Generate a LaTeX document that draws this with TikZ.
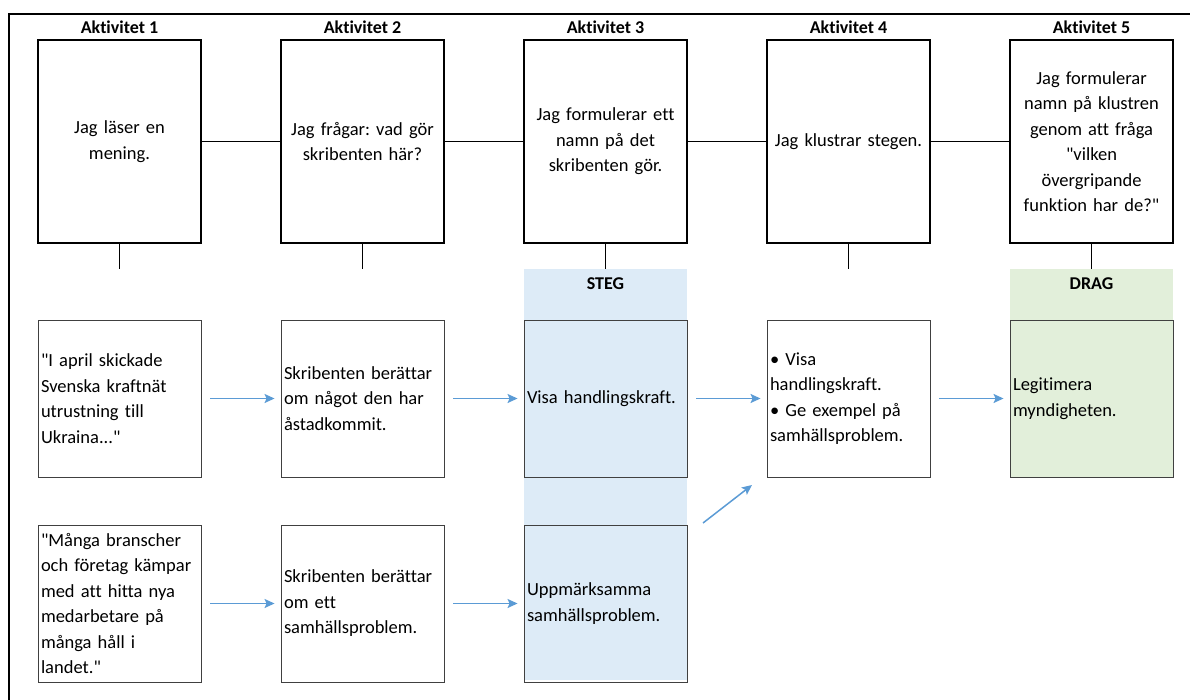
\documentclass[tikz,border=0pt]{standalone}
\usepackage{fontspec}
\setmainfont{Carlito}[Ligatures=NoCommon]
\usepackage{xcolor}
\usepackage{tikz}
\usetikzlibrary{positioning,arrows.meta}
\definecolor{stegblue}{HTML}{DDEBF7}
\definecolor{draggreen}{HTML}{E2EFDA}
\definecolor{pilblue}{HTML}{5B9BD5}
\frenchspacing
\newcommand{\cit}{\textquotedbl}
\tikzset{akt/.style={rectangle,draw,line width=1.6pt,minimum width=163pt,minimum height=203pt,text width=152pt,align=center,inner sep=0pt}}
\tikzset{ruta/.style={rectangle,draw=black!75,line width=0.9pt,minimum width=163pt,minimum height=157pt,text width=157pt,align=left,inner sep=3pt}}
\tikzset{rubrik/.style={font=\fontsize{18pt}{20pt}\selectfont\bfseries}}
\tikzset{pil/.style={->,draw=pilblue,line width=1.5pt,shorten <=9pt,shorten >=6pt}}
\tikzset{fond/.style={rectangle,minimum width=163pt,inner sep=0pt}}

\begin{document}
\begin{tikzpicture}[>={Stealth[length=10pt,width=9pt,inset=2pt]},x=1pt,y=-1pt,font=\fontsize{18.5pt}{25.5pt}\selectfont]
    \useasboundingbox (0,0) rectangle (1190,700);
    \draw [line width=2.4pt] (9,700) |- (1190,14);

    \node[fond,fill=stegblue,minimum height=411pt] (stegbg) at (605.5,474.5) {};
    \node[fond,fill=draggreen,minimum height=208pt] (dragbg) at (1091.5,373) {};
    \node[rubrik] at (605.5,284) {STEG};
    \node[rubrik] at (1091.5,284) {DRAG};

    \node[akt] (akt1) at (119.5,141.5) {Jag läser en\\mening.};
    \node[akt] (akt2) at (362.5,141.5) {Jag frågar: vad gör\\skribenten här?};
    \node[akt] (akt3) at (605.5,141.5) {Jag formulerar ett\\namn på det\\skribenten gör.};
    \node[akt] (akt4) at (848.5,141.5) {Jag klustrar stegen.};
    \node[akt] (akt5) at (1091.5,141.5) {Jag formulerar\\namn på klustren\\genom att fråga\\\cit vilken\\övergripande\\funktion har de?\cit};

    \node[rubrik,above=2pt of akt1] {Aktivitet 1};
    \node[rubrik,above=2pt of akt2] {Aktivitet 2};
    \node[rubrik,above=2pt of akt3] {Aktivitet 3};
    \node[rubrik,above=2pt of akt4] {Aktivitet 4};
    \node[rubrik,above=2pt of akt5] {Aktivitet 5};

    \coordinate (stub1) at (119.5,269);
    \coordinate (stub2) at (362.5,269);
    \coordinate (stub4) at (848.5,269);

    \node[ruta] (men1) at (119.5,398.5) {\cit I april skickade\\Svenska kraftnät\\utrustning till\\Ukraina...\cit};
    \node[ruta] (skr1) at (362.5,398.5) {Skribenten berättar\\om något den har\\åstadkommit.};
    \node[ruta] (steg1) at (605.5,398.5) {Visa handlingskraft.};
    \node[ruta] (klust) at (848.5,398.5) {\textbullet\ Visa\\handlingskraft.\\\textbullet\ Ge exempel på\\samhällsproblem.};
    \node[ruta] (legit) at (1091.5,398.5) {Legitimera\\myndigheten.};

    \node[ruta] (men2) at (119.5,603.5) {\cit Många branscher\\och företag kämpar\\med att hitta nya\\medarbetare på\\många håll i\\landet.\cit};
    \node[ruta] (skr2) at (362.5,603.5) {Skribenten berättar\\om ett\\samhällsproblem.};
    \node[ruta] (steg2) at (605.5,603.5) {Uppmärksamma\\samhällsproblem.};

    \coordinate (diag1) at (703,523);
    \coordinate (diag2) at (752,485);

    \draw [line width=0.8pt] (akt1) to [] (akt2);
    \draw [line width=0.8pt] (akt2) to [] (akt3);
    \draw [line width=0.8pt] (akt3) to [] (akt4);
    \draw [line width=0.8pt] (akt4) to [] (akt5);
    \draw [line width=0.8pt] (akt1) to [] (stub1);
    \draw [line width=0.8pt] (akt2) to [] (stub2);
    \draw [line width=0.8pt] (akt3) to [] (stegbg);
    \draw [line width=0.8pt] (akt4) to [] (stub4);
    \draw [line width=0.8pt] (akt5) to [] (dragbg);

    \draw [pil] (men1) to [] (skr1);
    \draw [pil] (skr1) to [] (steg1);
    \draw [pil] (steg1) to [] (klust);
    \draw [pil] (klust) to [] (legit);
    \draw [pil] (men2) to [] (skr2);
    \draw [pil] (skr2) to [] (steg2);
    \draw [pil,shorten <=0pt,shorten >=0pt] (diag1) to [] (diag2);
\end{tikzpicture}
\end{document}
